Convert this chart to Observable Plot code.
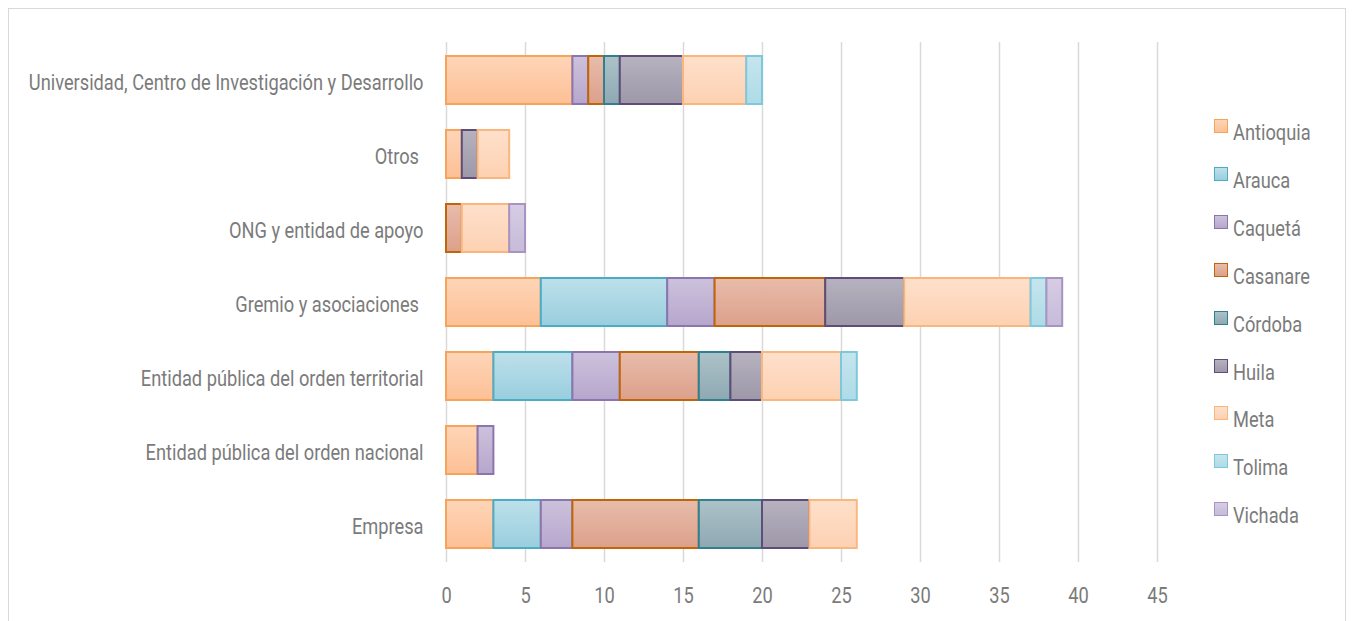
<!DOCTYPE html>
<html>
<head>
<meta charset="utf-8">
<script src="https://cdn.jsdelivr.net/npm/d3@7"></script>
<script src="https://cdn.jsdelivr.net/npm/@observablehq/plot@0.6"></script>
<style>
  html, body { margin: 0; padding: 0; background: #fff; }
  #wrap { position: relative; width: 1353px; height: 621px; overflow: hidden; font-family: Roboto, "Noto Sans", sans-serif; }
  #frame { position: absolute; left: 8px; top: 8px; width: 1338px; height: 640px; border: 1px solid #d9d9d9; box-sizing: border-box; pointer-events: none; }
  #legend { position: absolute; left: 0; top: 0; }
  .sw { position: absolute; box-sizing: border-box; width: 14px; height: 14px; border: 1.8px solid; }
  .lab { position: absolute; white-space: nowrap; font-size: 22.5px; line-height: 22.5px; color: #7b7b7b; transform-origin: 0 50%; }
</style>
</head>
<body>
<div id="wrap"><div id="frame"></div><div id="legend"></div></div>
<script>
const categories = [
  "Universidad, Centro de Investigación y Desarrollo",
  "Otros ",
  "ONG y entidad de apoyo",
  "Gremio y asociaciones ",
  "Entidad pública del orden territorial",
  "Entidad pública del orden nacional",
  "Empresa"
];
const regions = ["Antioquia", "Arauca", "Caquetá", "Casanare", "Córdoba", "Huila", "Meta", "Tolima", "Vichada"];
// values per region, aligned with categories
const antioquia = [8, 1, 0, 6, 3, 2, 3];
const arauca    = [0, 0, 0, 8, 5, 0, 3];
const caqueta   = [1, 0, 0, 3, 3, 1, 2];
const casanare  = [1, 0, 1, 7, 5, 0, 8];
const cordoba   = [1, 0, 0, 0, 2, 0, 4];
const huila     = [4, 1, 0, 5, 2, 0, 3];
const meta      = [4, 2, 3, 8, 5, 0, 3];
const tolima    = [1, 0, 0, 1, 1, 0, 0];
const vichada   = [0, 0, 1, 1, 0, 0, 0];
const xTicks = [0, 5, 10, 15, 20, 25, 30, 35, 40, 45];

const seriesValues = [antioquia, arauca, caqueta, casanare, cordoba, huila, meta, tolima, vichada];
const strokes = ["#f6a35c", "#4bacc6", "#8c74ad", "#c0650a", "#31808f", "#5e4d78", "#f9b77f", "#7fc8dc", "#a894c3"];
const topFill = ["#fed5b8", "#bde0ea", "#ccc2dc", "#e8bcab", "#adc2c8", "#b6b2be", "#fee0cb", "#c6e5ee", "#d6cde3"];
const botFill = ["#fdc095", "#99cede", "#b6a6cd", "#dca08a", "#8ea8b2", "#9e98a9", "#fdd1b2", "#aedbe7", "#c7bbd9"];

const data = [];
categories.forEach((c, ci) => {
  regions.forEach((r, ri) => {
    const v = seriesValues[ri][ci];
    if (v > 0) data.push({category: c, region: r, value: v});
  });
});
const strokeOf = Object.fromEntries(regions.map((r, i) => [r, strokes[i]]));
const FONT = 'Roboto, "Noto Sans", sans-serif';
const TEXT = "#7b7b7b";

const plot = Plot.plot({
  width: 1353,
  height: 621,
  marginLeft: 446,
  marginRight: 196,
  marginTop: 42,
  marginBottom: 59,
  style: {fontFamily: FONT, fontSize: "22.5px", color: TEXT, background: "transparent"},
  x: {domain: [0, 45], ticks: xTicks, label: null},
  y: {domain: categories, paddingInner: 0.35, paddingOuter: 0.175, label: null},
  color: {domain: regions, range: regions.map((r, i) => `url(#grad${i})`)},
  marks: [
    Plot.gridX(xTicks, {stroke: "#d9d9d9", strokeOpacity: 1, strokeWidth: 1.5}),
    Plot.barX(data, {
      y: "category",
      x: "value",
      fill: "region",
      stroke: d => strokeOf[d.region],
      strokeWidth: 2,
      inset: 0,
      order: null
    }),
    Plot.axisX(xTicks, {tickSize: 0, tickPadding: 25, fontSize: 22.5, fill: TEXT, tickFormat: d => String(d)}),
    Plot.axisY({tickSize: 0, tickPadding: 23, fontSize: 22.5, fill: TEXT, dy: 2})
  ]
});

const svg = d3.select(plot);
const defs = svg.insert("defs", ":first-child");
regions.forEach((r, i) => {
  const g = defs.append("linearGradient").attr("id", `grad${i}`).attr("x1", 0).attr("y1", 0).attr("x2", 0).attr("y2", 1);
  g.append("stop").attr("offset", "0%").attr("stop-color", topFill[i]);
  g.append("stop").attr("offset", "100%").attr("stop-color", botFill[i]);
});
plot.style.position = "absolute";
plot.style.left = "0";
plot.style.top = "0";
document.getElementById("wrap").insertBefore(plot, document.getElementById("frame"));

// condense text horizontally to mimic the reference's condensed typeface
const yTexts = Array.from(plot.querySelectorAll('g[aria-label="y-axis tick label"] text'));
let factor = 0.8;
const longest = yTexts.find(t => t.textContent.startsWith("Universidad"));
if (longest) {
  const len = longest.getComputedTextLength();
  if (len > 0) factor = 395 / len;
}
const xTexts = Array.from(plot.querySelectorAll('g[aria-label="x-axis tick label"] text'));
[...yTexts, ...xTexts].forEach(t => {
  const tr = t.getAttribute("transform");
  if (tr) {
    t.setAttribute("transform", tr + ` scale(${factor},1)`);
  } else {
    const x = +t.getAttribute("x") || 0;
    t.setAttribute("transform", `translate(${x},0) scale(${factor},1) translate(${-x},0)`);
  }
});

// legend (HTML, to the right of the plot)
const legend = document.getElementById("legend");
const baseline0 = 140, legendStep = 47.9;
regions.forEach((r, i) => {
  const base = baseline0 + i * legendStep;
  const sw = document.createElement("div");
  sw.className = "sw";
  sw.style.left = "1214px";
  sw.style.top = (base - 21) + "px";
  sw.style.borderColor = strokes[i];
  sw.style.background = `linear-gradient(${topFill[i]}, ${botFill[i]})`;
  const lab = document.createElement("div");
  lab.className = "lab";
  lab.style.left = "1233px";
  lab.style.top = (base - 19) + "px";
  lab.textContent = r;
  lab.style.transform = `scaleX(${factor})`;
  legend.appendChild(sw);
  legend.appendChild(lab);
});
</script>
</body>
</html>
